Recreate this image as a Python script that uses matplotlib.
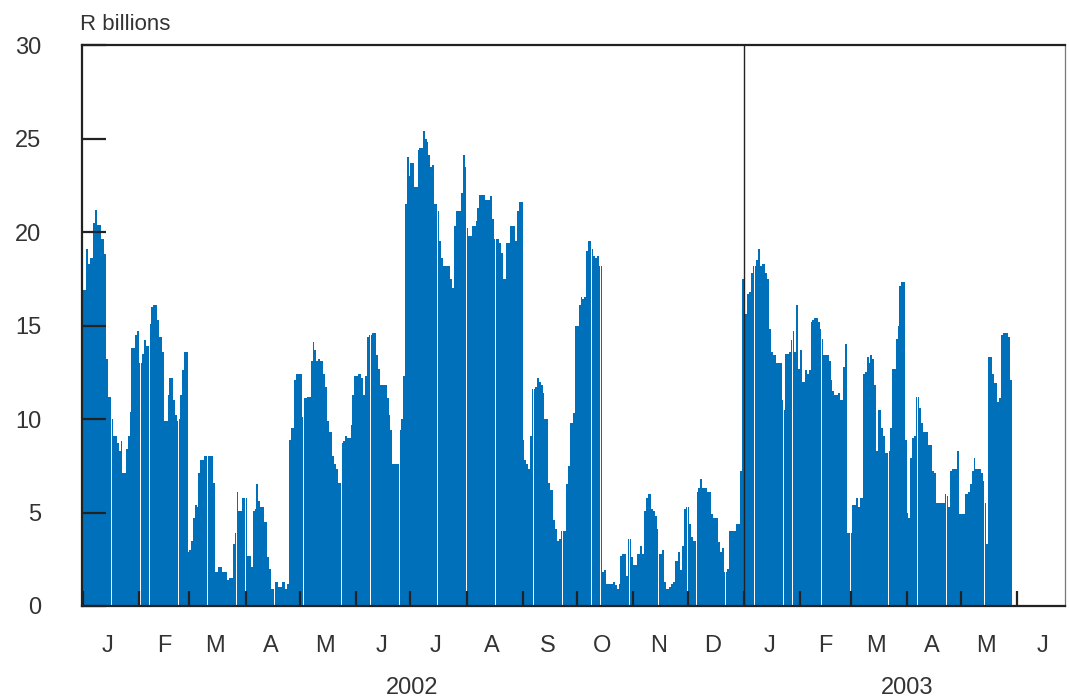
import matplotlib
matplotlib.use("Agg")
import matplotlib.pyplot as plt
import matplotlib.dates as mdates
import matplotlib.transforms as mtransforms
import pandas as pd
import numpy as np

plt.rcParams['font.family'] = ['Liberation Sans', 'DejaVu Sans']

# ---- data: daily values, R billions ----
jan02 = [16.9,16.9,19.1,18.3,18.6, 18.6,20.5,21.2,20.4,20.4, 19.6,19.6,18.8,13.2,11.2,
         11.2,10.0,9.1,9.1,8.7, 8.3,8.8,7.1,7.1,8.4, 9.1,10.4,13.8,13.8,14.5, 14.7]
feb02 = [13.0,13.0,13.5,14.2,13.9, 13.9,15.1,16.0,16.1,16.1, 15.3,14.4,14.4,13.6,9.9,
         9.9,11.3,12.2,12.2,11.0, 10.2,9.9,10.0,11.3,12.6, 13.6,13.6,2.9]
mar02 = [3.0,3.5,4.7,5.4,5.3, 7.1,7.8,7.8,8.0,8.0, 8.0,8.0,8.0,6.6,1.8,
         1.8,2.1,2.1,1.8,1.8, 1.8,1.4,1.5,1.5,3.3, 3.9,6.1,5.1,5.1,5.8, 5.8]
apr02 = [5.8,2.7,2.7,2.1,5.1, 5.2,6.5,5.6,5.3,5.3, 4.5,4.5,2.6,2.0,0.9,
         0.9,1.3,1.3,1.0,1.0, 1.3,1.3,0.9,1.2,8.9, 9.5,9.5,12.1,12.4,12.4]
may02 = [12.4,10.1,11.1,11.1,11.2, 11.2,13.1,14.1,13.7,13.1, 13.2,13.1,13.1,12.4,11.7,
         9.9,9.3,9.3,8.0,7.6, 7.3,6.6,6.6,8.7,8.8, 9.1,9.0,9.0,9.7,11.3, 12.3]
jun02 = [12.3,12.4,12.4,12.2,11.3, 12.3,14.4,14.5,14.5,14.6, 14.6,13.4,12.7,11.8,11.8,
         11.8,11.8,11.1,10.2,9.4, 7.6,7.6,7.6,7.6,9.4, 10.0,12.3,21.5,24.0,23.0]
jul02 = [23.7,23.7,22.4,22.4,24.4, 24.5,24.5,25.4,25.0,24.8, 24.1,23.5,23.6,21.5,21.5,
         21.1,19.5,18.6,18.2,18.2, 18.2,18.2,17.5,17.0,20.3, 21.1,21.1,21.1,22.1,24.1, 23.5]
aug02 = [20.2,19.8,19.8,20.3,20.3, 20.6,21.3,22.0,22.0,22.0, 21.7,21.7,21.7,21.9,20.7,
         19.6,19.6,19.6,19.4,18.9, 17.5,17.5,19.4,19.4,20.3, 20.3,20.3,19.5,21.1,21.6, 21.6]
sep02 = [8.9,7.8,7.6,7.3,9.1, 11.6,11.6,11.7,12.2,12.0, 11.8,11.4,10.0,10.0,6.6,
         6.2,6.2,4.6,4.1,3.5, 3.6,4.0,4.0,4.0,6.5, 7.5,9.8,9.8,10.3,15.0]
oct02 = [15.0,16.1,16.5,16.4,16.5, 19.0,19.5,19.5,19.1,18.7, 18.6,18.7,18.2,18.2,1.8,
         1.9,1.2,1.2,1.2,1.2, 1.3,1.1,0.9,1.2,2.7, 2.8,2.8,1.6,3.6,3.6, 2.6]
nov02 = [2.2,2.2,2.8,2.8,3.2, 2.8,5.1,5.8,6.0,6.0, 5.2,5.1,4.8,4.1,2.8,
         2.8,3.0,1.3,0.9,0.9, 1.0,1.2,1.3,2.4,2.4, 2.9,1.9,3.2,5.2,5.3]
dec02 = [5.3,4.4,3.7,3.5,3.5, 6.1,6.3,6.8,6.3,6.3, 6.3,6.1,6.1,4.9,4.7,
         4.7,4.7,3.4,2.9,3.1, 1.8,1.8,2.0,4.0,4.0, 4.0,4.0,4.4,4.4,7.2, 17.5]
jan03 = [17.5,15.6,16.7,16.8,17.8, 18.2,18.2,18.5,19.1,18.2, 18.3,18.3,17.8,17.5,14.8,
         13.6,13.4,13.4,13.0,13.0, 13.0,11.0,10.5,13.5,13.5, 13.6,14.2,14.7,13.6,16.1, 12.7]
feb03 = [13.7,12.0,12.0,12.6,12.4, 12.6,15.2,15.3,15.4,15.4, 15.2,14.8,14.3,13.4,13.4,
         13.4,13.1,12.1,11.5,11.3, 11.3,11.4,11.0,11.0,12.8, 14.0,3.9,3.9]
mar03 = [3.9,5.4,5.4,5.8,5.3, 5.8,5.8,12.4,12.5,13.3, 13.0,13.4,13.2,11.8,8.3,
         10.5,10.5,9.5,9.1,8.2, 8.2,8.3,9.5,12.7,12.7, 14.3,15.0,17.1,17.3,17.3, 8.9]
apr03 = [5.0,4.7,7.9,9.0,9.1, 11.2,11.2,10.6,9.8,9.3, 9.3,9.3,8.6,8.6,7.2,
         7.1,5.5,5.5,5.5,5.5, 5.5,6.0,5.9,5.3,7.2, 7.3,7.3,7.3,8.3,4.9]
may03 = [4.9,4.9,6.0,6.0,6.1, 6.5,7.2,7.9,7.3,7.3, 7.3,7.1,6.7,5.5,3.3,
         13.3,13.3,12.4,11.9,11.9, 10.9,11.1,14.5,14.6,14.6, 14.6,14.4,12.1]

start_date = "2002-01-01"
month_letters = ["J", "F", "M", "A", "M", "J", "J", "A", "S", "O", "N", "D"]
years = ["2002", "2003"]
y_label = "R billions"

values = (jan02 + feb02 + mar02 + apr02 + may02 + jun02 + jul02 + aug02 + sep02 +
          oct02 + nov02 + dec02 + jan03 + feb03 + mar03 + apr03 + may03)
dates = pd.date_range(start_date, periods=len(values), freq="D")
xnum = mdates.date2num(dates.to_pydatetime())

BLUE = "#0070BA"
DARK = "#222222"
TEXT = "#333333"

fig = plt.figure(figsize=(10.69, 7.0), dpi=100)
ax = fig.add_axes([82 / 1069, 1 - 606 / 700, (1065 - 82) / 1069, (606 - 45) / 700])

ax.bar(xnum, values, width=0.965, align="edge", color=BLUE, linewidth=0)

x0 = mdates.date2num(pd.Timestamp("2002-01-01")) - 0.3
x1 = mdates.date2num(pd.Timestamp("2003-06-27 10:00"))
ax.set_xlim(x0, x1)
ax.set_ylim(0, 30)

# y axis
ax.set_yticks(np.arange(0, 31, 5))
ax.tick_params(axis="y", which="major", direction="in", length=17.3, width=1.6,
               color=DARK, pad=29.5, labelsize=17, labelcolor=TEXT)

# x axis: month-start ticks (minor), month letters at mid month (major)
ax.xaxis.set_minor_locator(mdates.MonthLocator(bymonthday=1))
ax.xaxis.set_major_locator(mdates.MonthLocator(bymonthday=15))
ax.xaxis.set_major_formatter(
    matplotlib.ticker.FuncFormatter(lambda v, p: month_letters[mdates.num2date(v).month - 1]))
ax.tick_params(axis="x", which="major", length=0, pad=21, labelsize=17, labelcolor=TEXT)
ax.tick_params(axis="x", which="minor", direction="in", length=10.8, width=1.6, color=DARK)

for s in ["left", "top", "bottom"]:
    ax.spines[s].set_linewidth(1.6)
    ax.spines[s].set_color(DARK)
ax.spines["right"].set_linewidth(0.9)
ax.spines["right"].set_color("#777777")

# year divider
ax.axvline(mdates.date2num(pd.Timestamp("2003-01-01")), color=DARK, lw=1.0, zorder=3)

# year labels
trans = mtransforms.blended_transform_factory(ax.transData, fig.transFigure)
ax.text(mdates.date2num(pd.Timestamp("2002-07-02")), 1 - 688 / 700, years[0],
        transform=trans, ha="center", va="center", fontsize=17, color=TEXT)
ax.text(mdates.date2num(pd.Timestamp("2003-04-01")), 1 - 688 / 700, years[1],
        transform=trans, ha="center", va="center", fontsize=17, color=TEXT)

fig.text(80 / 1069, 1 - 24 / 700, y_label, ha="left", va="center", fontsize=16, color=TEXT)

fig.savefig("out.png", dpi=100)
